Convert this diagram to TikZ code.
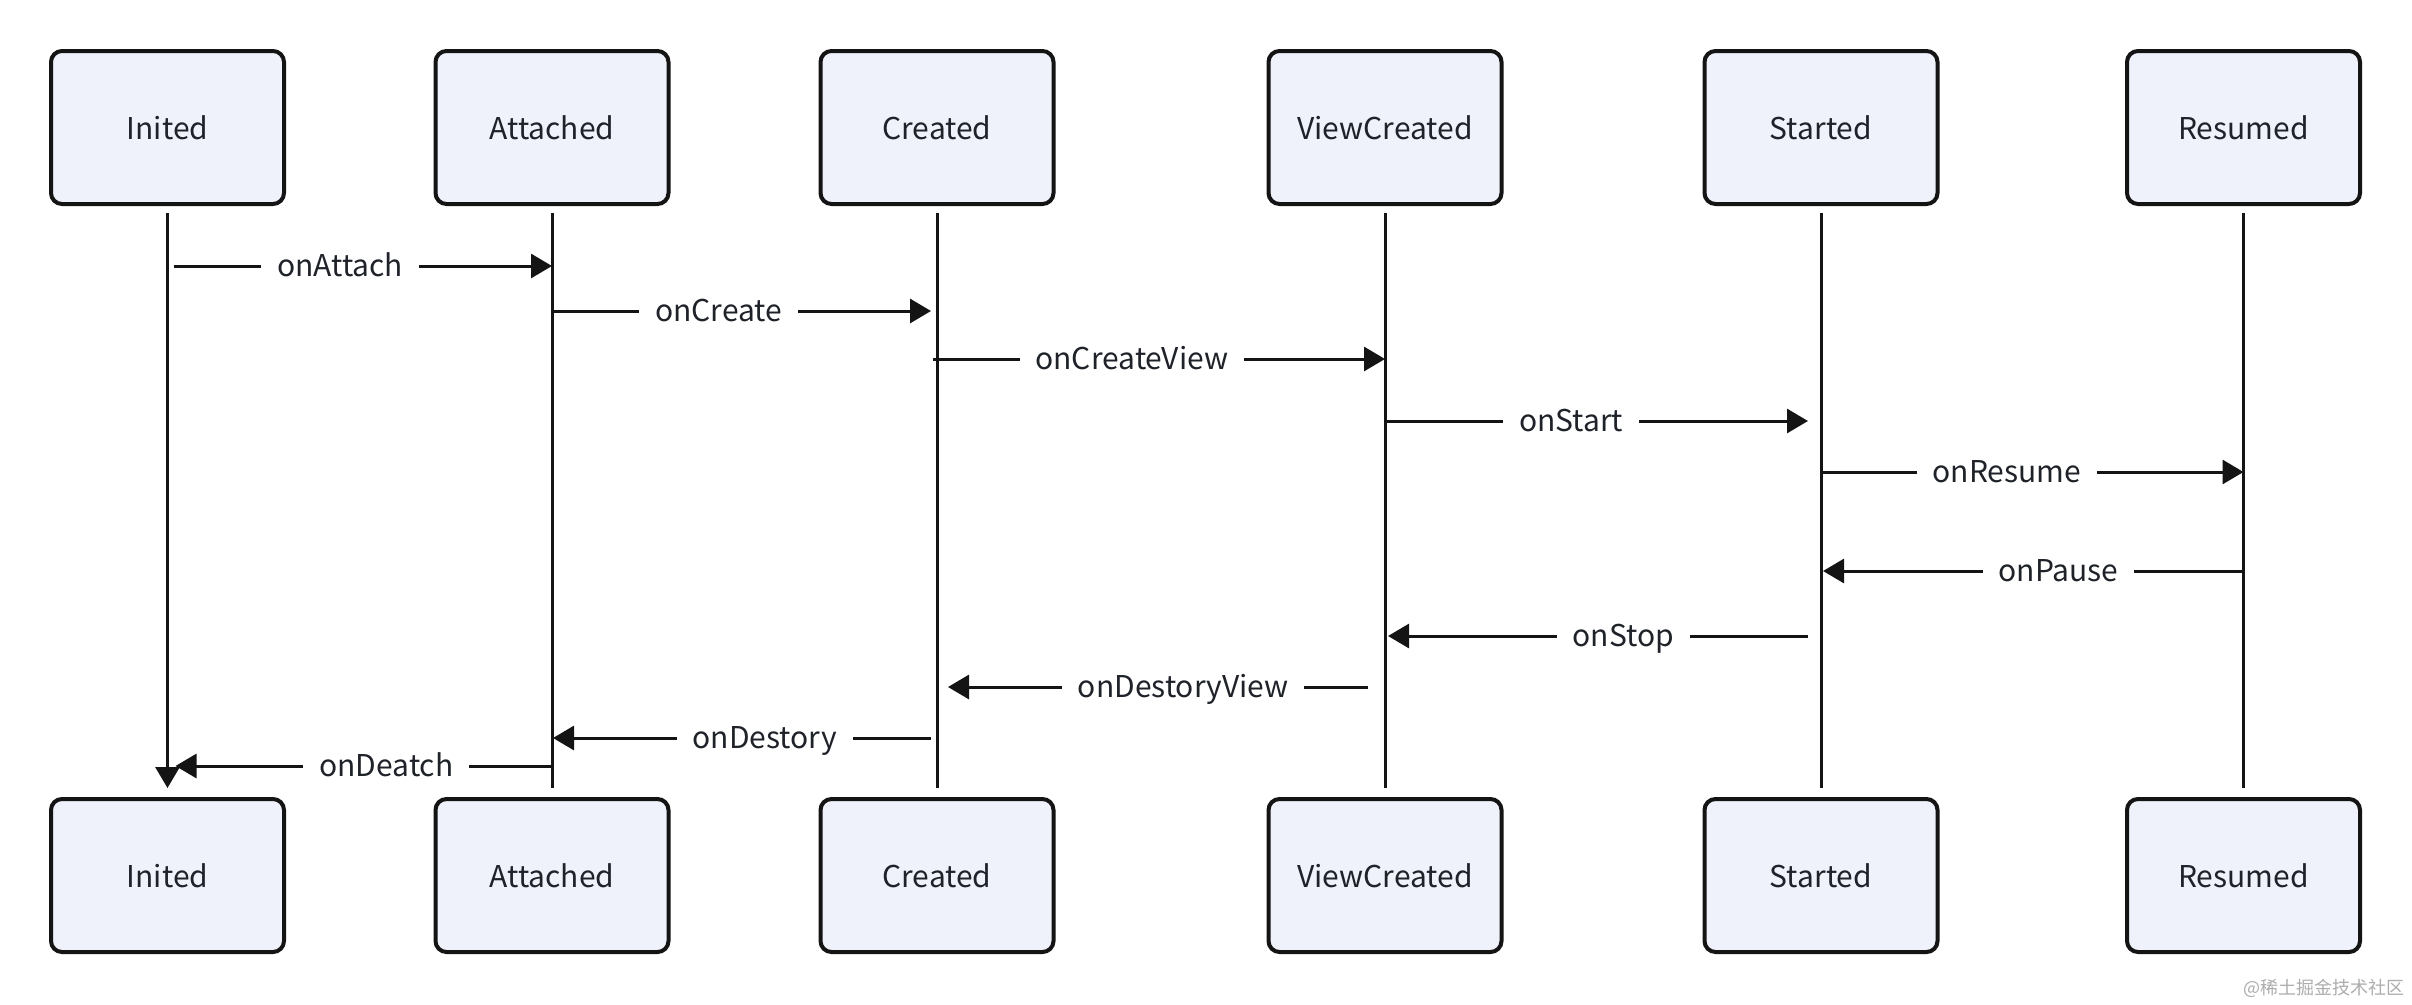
\documentclass[tikz,border=0pt]{standalone}
\usepackage{fontspec}
\setmainfont{Noto Sans CJK SC}
\usetikzlibrary{arrows.meta,calc}

\definecolor{statefill}{RGB}{239,242,250}
\definecolor{inktext}{RGB}{31,35,41}

\tikzset{
	state/.style={draw=black!92, line width=4pt, rounded corners=11pt, fill=statefill,
		minimum width=233pt, minimum height=153pt, text=inktext, font=\fontsize{30}{36}\selectfont},
	life/.style={line width=3pt, draw=black!92},
	msg/.style={line width=3pt, draw=black!92, -{Triangle[length=21pt,width=24pt]}},
	lbl/.style={fill=white, inner xsep=16pt, inner ysep=3pt, text height=21pt, text depth=1pt,
		text=inktext, font=\fontsize{30}{36}\selectfont},
	credit/.style={text=black!32, anchor=east, inner sep=0pt, font=\fontsize{18}{20}\selectfont}
}

\begin{document}
\begin{tikzpicture}[x=1pt,y=1pt,yscale=-1,xscale=1]
	\fill[white] (0,0) rectangle (2412,1004);
	\useasboundingbox (0,0) rectangle (2412,1004);
	
	% States, top row
	\node[state] (ini1) at (167.5,127.5) {Inited};
	\node[state] (att1) at (552,127.5) {Attached};
	\node[state] (cre1) at (937,127.5) {Created};
	\node[state] (vc1) at (1385,127.5) {ViewCreated};
	\node[state] (sta1) at (1821,127.5) {Started};
	\node[state] (res1) at (2243.5,127.5) {Resumed};
	
	% States, bottom row
	\node[state] (ini2) at (167.5,875.5) {Inited};
	\node[state] (att2) at (552,875.5) {Attached};
	\node[state] (cre2) at (937,875.5) {Created};
	\node[state] (vc2) at (1385,875.5) {ViewCreated};
	\node[state] (sta2) at (1821,875.5) {Started};
	\node[state] (res2) at (2243.5,875.5) {Resumed};
	
	% Lifelines
	\draw[msg] ($(ini1.south)+(0,7)$) -- ($(ini2.north)+(0,-9)$);
	\draw[life] ($(att1.south)+(0,7)$) -- ($(att2.north)+(0,-9)$);
	\draw[life] ($(cre1.south)+(0,7)$) -- ($(cre2.north)+(0,-9)$);
	\draw[life] ($(vc1.south)+(0,7)$) -- ($(vc2.north)+(0,-9)$);
	\draw[life] ($(sta1.south)+(0,7)$) -- ($(sta2.north)+(0,-9)$);
	\draw[life] ($(res1.south)+(0,7)$) -- ($(res2.north)+(0,-9)$);
	
	% Forward calls
	\draw[msg] ($(ini1|-0,266)+(6,0)$) -- (att1|-0,266) node[lbl,pos=.44] {onAttach};
	\draw[msg] (att1|-0,311) -- ($(cre1|-0,311)+(-6,0)$) node[lbl,pos=.44] {onCreate};
	\draw[msg] ($(cre1|-0,359)+(-4,0)$) -- (vc1|-0,359) node[lbl,pos=.44] {onCreateView};
	\draw[msg] (vc1|-0,421) -- ($(sta1|-0,421)+(-13,0)$) node[lbl,pos=.44] {onStart};
	\draw[msg] (sta1|-0,472) -- (res1|-0,472) node[lbl,pos=.44] {onResume};
	
	% Backward calls
	\draw[msg] (res1|-0,571) -- ($(sta1|-0,571)+(2,0)$) node[lbl,pos=.44] {onPause};
	\draw[msg] ($(sta1|-0,636)+(-13,0)$) -- ($(vc1|-0,636)+(3,0)$) node[lbl,pos=.44] {onStop};
	\draw[msg] ($(vc1|-0,687)+(-17,0)$) -- ($(cre1|-0,687)+(11,0)$) node[lbl,pos=.44] {onDestoryView};
	\draw[msg] ($(cre1|-0,738)+(-6,0)$) -- ($(att1|-0,738)+(1,0)$) node[lbl,pos=.44] {onDestory};
	\draw[msg] (att1|-0,766) -- ($(ini1|-0,766)+(8,0)$) node[lbl,pos=.44] {onDeatch};
	
	% Source note
	\node[credit] (src) at (2405,988) {@稀土掘金技术社区};
	
\end{tikzpicture}
\end{document}
